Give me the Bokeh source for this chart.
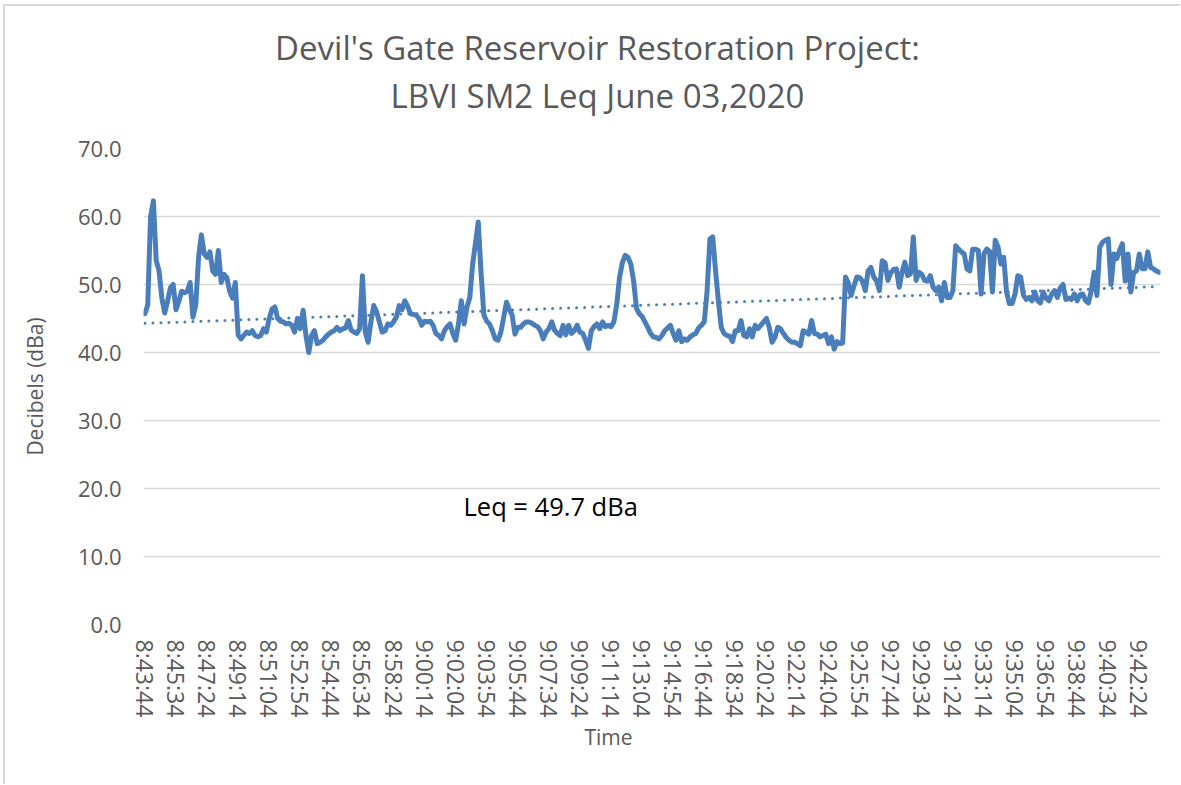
import numpy as np
from bokeh.plotting import figure
from bokeh.models import FixedTicker, NumeralTickFormatter, Label, Range1d
from bokeh.embed import file_html
from bokeh.resources import INLINE

# ---------------- data ----------------
title_lines = ["Devil's Gate Reservoir Restoration Project:", "LBVI SM2 Leq June 03,2020"]
x_axis_label = "Time"
y_axis_label = "Decibels (dBa)"
note_text = "Leq = 49.7 dBa"

tick_labels = ["8:43:44", "8:45:34", "8:47:24", "8:49:14", "8:51:04", "8:52:54", "8:54:44",
               "8:56:34", "8:58:24", "9:00:14", "9:02:04", "9:03:54", "9:05:44", "9:07:34",
               "9:09:24", "9:11:14", "9:13:04", "9:14:54", "9:16:44", "9:18:34", "9:20:24",
               "9:22:14", "9:24:04", "9:25:54", "9:27:44", "9:29:34", "9:31:24", "9:33:14",
               "9:35:04", "9:36:54", "9:38:44", "9:40:34", "9:42:24"]
label_every = 11  # one label every 11 samples (10 s apart)

y_ticks = [0, 10, 20, 30, 40, 50, 60, 70]

leq_db = [
    45.7, 47.0, 60.0, 62.3, 53.5, 52.0, 48.0, 45.8, 47.5, 49.5,
    50.0, 46.3, 47.5, 49.0, 48.8, 49.0, 50.3, 45.2, 47.0, 54.0,
    57.3, 54.5, 54.0, 54.8, 52.0, 51.5, 55.0, 50.3, 51.5, 51.0,
    49.0, 48.0, 50.3, 42.6, 42.0, 42.5, 43.0, 42.8, 43.2, 42.5,
    42.3, 42.5, 43.5, 43.0, 45.0,
    46.4, 46.7, 45.0, 44.6, 44.5, 44.2, 44.3, 44.0, 43.0, 45.0,
    43.5, 46.2, 42.5, 40.0, 42.5, 43.2, 41.3, 41.5, 41.8, 42.3,
    42.7, 43.0, 43.2, 43.7, 43.2, 43.5, 43.6, 44.7, 43.3, 43.0,
    42.8, 43.5, 51.3, 43.0, 41.5, 44.5, 46.9, 46.0, 44.5, 43.0,
    43.2, 44.2, 44.0, 44.5,
    45.2, 46.9, 46.3, 47.6, 46.8, 45.7, 45.6, 45.5, 45.0, 44.0,
    44.6, 44.5, 44.6, 44.0, 42.8, 42.5, 42.0, 43.2, 43.8, 44.2,
    42.8, 41.8, 44.2, 47.6, 44.2, 46.7, 48.1, 53.0, 56.0, 59.2,
    51.6, 45.5, 44.6, 44.2, 43.2, 42.0, 41.8, 43.0, 45.2, 47.4,
    46.3, 45.5, 42.7, 43.7,
    43.7, 44.2, 44.5, 44.5, 44.3, 44.0, 43.8, 43.2, 42.0, 43.0,
    43.5, 44.5, 43.3, 42.8, 42.5, 44.0, 42.6, 44.0, 42.8, 43.2,
    44.0, 43.0, 42.8, 41.8, 40.6, 43.2, 43.8, 44.2, 43.5, 44.5,
    43.8, 44.0, 43.8, 44.5, 47.0, 51.0, 53.2, 54.3, 54.0, 53.0,
    50.5, 46.5, 45.7, 45.3,
    44.5, 43.7, 42.8, 42.3, 42.2, 42.0, 42.5, 43.2, 43.6, 44.0,
    42.8, 41.8, 43.2, 41.6, 42.0, 41.8, 42.3, 42.6, 42.8, 43.6,
    44.0, 44.5, 49.0, 56.7, 57.0, 52.0, 47.6, 43.7, 42.8, 42.5,
    42.4, 41.6, 43.2, 43.2, 44.7, 42.5, 42.3, 43.5, 42.3, 44.0,
    43.5, 44.0, 44.5, 45.0, 43.7,
    41.5, 42.2, 43.7, 43.5, 42.8, 42.2, 41.8, 41.5, 41.5, 41.3,
    41.0, 43.2, 43.0, 42.7, 44.7, 42.8, 42.7, 42.3, 42.5, 42.7,
    41.3, 42.3, 40.5, 41.6, 41.3, 41.4, 51.1, 50.2, 48.4, 49.8,
    51.1, 51.0, 50.5, 49.1, 52.0, 52.5, 51.1, 50.5, 49.1, 53.5,
    53.2, 50.6, 51.7, 52.2,
    52.3, 49.6, 51.8, 53.3, 51.3, 51.6, 57.0, 50.6, 51.8, 51.5,
    50.6, 50.5, 51.3, 49.6, 49.1, 49.6, 47.6, 50.3, 48.1, 48.1,
    49.1, 55.7, 55.2, 54.8, 54.5, 52.3, 52.0, 55.2, 55.2, 55.0,
    48.6, 54.5, 55.2, 54.9, 48.9, 56.5, 55.5, 53.0, 54.0, 48.9,
    47.2, 47.2, 48.6, 51.3,
    51.1, 48.4, 47.8, 48.1, 47.6, 48.9, 47.6, 47.3, 48.9, 48.0,
    47.6, 48.6, 49.1, 48.1, 49.5, 50.0, 47.8, 48.0, 47.8, 48.6,
    47.6, 48.5, 48.6, 47.6, 47.3, 49.1, 51.8, 48.4, 55.5, 56.2,
    56.5, 56.7, 50.0, 54.5, 53.8, 55.0, 56.0, 50.5, 54.5, 48.9,
    51.8, 52.0, 54.5, 52.3, 52.3, 54.8, 52.5, 52.3, 52.0, 51.8,
]

# ---------------- derived ----------------
n = len(leq_db)
idx = np.arange(n)
slope, intercept = np.polyfit(idx, np.array(leq_db), 1)
trend = slope * idx + intercept

BLUE = "#4a7ebb"
GREY_TXT = "#595959"
GRID = "#d9d9d9"
FONT = "Open Sans"

# layout (the page template puts the figure at (0,0))
OX, OY = 0, 0
W, H = 1180, 784
BL, BT = 143, 148
FW, FH = 1017, 476
BR, BB = W - BL - FW, H - BT - FH

p = figure(width=W, height=H, output_backend="svg", toolbar_location=None,
           x_range=Range1d(-0.5, n - 0.5), y_range=Range1d(0, 70),
           min_border_left=BL, min_border_right=BR, min_border_top=BT, min_border_bottom=BB)
# chart-area border (top and left edges visible), drawn behind a transparent canvas border
p.styles = {"background-color": "white",
            "box-shadow": "inset 3px 4px 0 white, inset 5px 6px 0 #d9d9d9"}
p.border_fill_alpha = 0
p.background_fill_color = "white"
p.outline_line_color = None

# grid
p.xgrid.grid_line_color = None
p.ygrid.grid_line_color = GRID
p.ygrid.grid_line_width = 1.5
p.ygrid.ticker = FixedTicker(ticks=y_ticks)

# y axis
p.yaxis.ticker = FixedTicker(ticks=y_ticks)
p.yaxis.formatter = NumeralTickFormatter(format="0.0")
p.yaxis.axis_line_color = None
p.yaxis.major_tick_line_color = None
p.yaxis.minor_tick_line_color = None
p.yaxis.major_tick_out = 0
p.yaxis.major_label_standoff = 22
p.yaxis.major_label_text_font = FONT
p.yaxis.major_label_text_font_size = "22px"
p.yaxis.major_label_text_color = GREY_TXT
p.yaxis.axis_label = y_axis_label
p.yaxis.axis_label_text_font = FONT
p.yaxis.axis_label_text_font_size = "21px"
p.yaxis.axis_label_text_font_style = "normal"
p.yaxis.axis_label_text_color = GREY_TXT
p.yaxis.axis_label_standoff = 26

# x axis
tick_pos = [k * label_every for k in range(len(tick_labels))]
p.xaxis.ticker = FixedTicker(ticks=tick_pos)
p.xaxis.major_label_overrides = {t: lab for t, lab in zip(tick_pos, tick_labels)}
p.xaxis.major_label_orientation = "vertical"
p.xaxis.axis_line_color = None
p.xaxis.major_tick_line_color = None
p.xaxis.minor_tick_line_color = None
p.xaxis.major_tick_out = 0
p.xaxis.major_label_standoff = 15
p.xaxis.major_label_text_font = FONT
p.xaxis.major_label_text_font_size = "23px"
p.xaxis.major_label_text_color = GREY_TXT

# series
p.line(idx, leq_db, line_color=BLUE, line_width=5, line_join="round", line_cap="round")
p.line(idx, trend, line_color=BLUE, line_width=3, line_dash="0 8", line_cap="round")

# helpers: page pixel -> data coords (for text placement only)
def px_x(px):
    return (px - (OX + BL)) / FW * n - 0.5

def px_y(py):
    return ((OY + BT) + FH - py) / FH * 70.0

# texts outside the frame live in side panels so they are not clipped
p.add_layout(Label(x=px_x(597), y=px_y(47), text=title_lines[0], text_align="center",
                   text_baseline="middle", text_font=FONT, text_font_size="33px",
                   text_color=GREY_TXT), "above")
p.add_layout(Label(x=px_x(597), y=px_y(95), text=title_lines[1], text_align="center",
                   text_baseline="middle", text_font=FONT, text_font_size="33px",
                   text_color=GREY_TXT), "above")
p.add_layout(Label(x=px_x(608), y=px_y(736), text=x_axis_label, text_align="center",
                   text_baseline="middle", text_font=FONT, text_font_size="21px",
                   text_color=GREY_TXT), "below")
p.add_layout(Label(x=px_x(463), y=px_y(505), text=note_text, text_align="left",
                   text_baseline="middle", text_font=FONT, text_font_size="25.5px",
                   text_color="#000000"))

open("out.html", "w").write(file_html(p, INLINE))
